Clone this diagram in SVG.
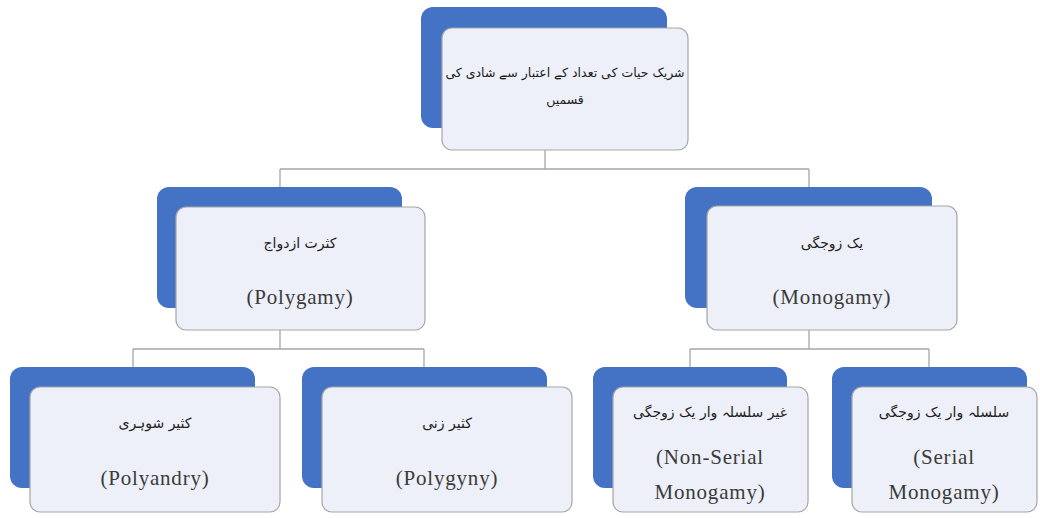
<svg xmlns="http://www.w3.org/2000/svg" width="1040" height="518" viewBox="0 0 1040 518">
<style>
.back{fill:#4472C4;}
.front{fill:#EDF0F8;stroke:#A6A6A6;stroke-width:1.2;}
.ur{font-family:"DejaVu Sans","Noto Sans",sans-serif;font-size:14px;fill:#222;text-anchor:middle;direction:rtl;}
.ur.small{font-size:12.5px;}
.en{font-family:"Liberation Serif",serif;font-size:21px;letter-spacing:0.8px;fill:#3a3a3a;text-anchor:middle;}
.conn{fill:none;stroke:#A6A6A6;stroke-width:1.3;}
</style>
<rect width="1040" height="518" fill="#FFFFFF"/>
<g id="connectors">
<path class="conn" d="M545,150 V169 M280,169 H809 M280,169 V187 M809,169 V187"/>
<path class="conn" d="M280,330 V349 M133,349 H424 M133,349 V367 M424,349 V367"/>
<path class="conn" d="M809,330 V349 M690,349 H929 M690,349 V367 M929,349 V367"/>
</g>
<g id="root">
<rect class="back" x="421" y="7" width="246" height="121" rx="12"/>
<rect class="front" x="442" y="28" width="246" height="122" rx="10"/>
<text class="ur small" x="565" y="77">شریک حیات کی تعداد کے اعتبار سے شادی کی</text>
<text class="ur small" x="565" y="104">قسمیں</text>
</g>
<g id="polygamy">
<rect class="back" x="157" y="187" width="245" height="121" rx="12"/>
<rect class="front" x="176" y="207" width="249" height="123" rx="10"/>
<text class="ur" x="300" y="248">کثرت ازدواج</text>
<text class="en" x="300" y="304">(Polygamy)</text>
</g>
<g id="monogamy">
<rect class="back" x="685" y="187" width="247" height="121" rx="12"/>
<rect class="front" x="707" y="206" width="250" height="124" rx="10"/>
<text class="ur" x="832" y="248">یک زوجگی</text>
<text class="en" x="832" y="304">(Monogamy)</text>
</g>
<g id="polyandry">
<rect class="back" x="10" y="367" width="245" height="121" rx="12"/>
<rect class="front" x="30" y="387" width="250" height="125" rx="10"/>
<text class="ur" x="155" y="428">کثیر شوہری</text>
<text class="en" x="155" y="485">(Polyandry)</text>
</g>
<g id="polygyny">
<rect class="back" x="302" y="367" width="245" height="121" rx="12"/>
<rect class="front" x="322" y="387" width="250" height="125" rx="10"/>
<text class="ur" x="447" y="428">کثیر زنی</text>
<text class="en" x="447" y="485">(Polygyny)</text>
</g>
<g id="non-serial">
<rect class="back" x="593" y="367" width="194" height="121" rx="12"/>
<rect class="front" x="613" y="387" width="195" height="125" rx="10"/>
<text class="ur" x="710" y="417">غیر سلسلہ وار یک زوجگی</text>
<text class="en" x="710" y="464">(Non-Serial</text>
<text class="en" x="710" y="499">Monogamy)</text>
</g>
<g id="serial">
<rect class="back" x="832" y="367" width="195" height="121" rx="12"/>
<rect class="front" x="852" y="387" width="185" height="125" rx="10"/>
<text class="ur" x="944" y="417">سلسلہ وار یک زوجگی</text>
<text class="en" x="944" y="464">(Serial</text>
<text class="en" x="944" y="499">Monogamy)</text>
</g>
</svg>
